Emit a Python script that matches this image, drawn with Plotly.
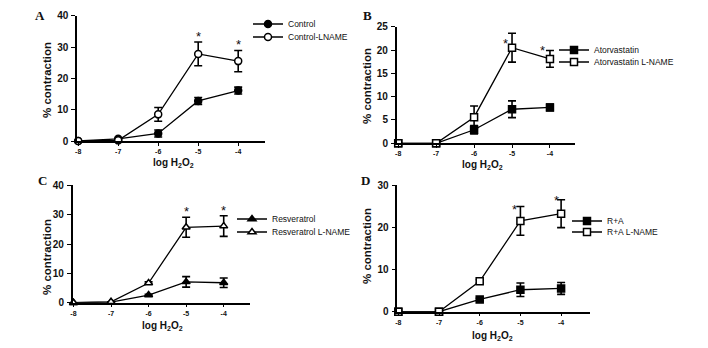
import plotly.graph_objects as go

# ---------------- data ----------------
doses = [-8, -7, -6, -5, -4]
x_ticks = [-8, -7, -6, -5, -4]

control = [0, 0.7, 2.4, 12.8, 16.1]
control_err = [0, 0, 1.1, 1.1, 1.1]
control_lname = [0, 0.2, 8.5, 27.8, 25.5]
control_lname_err = [0, 0, 2.2, 3.8, 3.4]

ator = [0, 0, 2.9, 7.3, 7.7]
ator_err = [0, 0, 0.9, 1.8, 0.7]
ator_lname = [0, 0, 5.6, 20.5, 18.1]
ator_lname_err = [0, 0, 2.4, 3.1, 1.8]

resv = [0, 0.2, 2.6, 7.1, 6.8]
resv_err = [0, 0, 0.3, 1.8, 1.6]
resv_lname = [0, 0.3, 6.7, 25.7, 26.1]
resv_lname_err = [0, 0, 0.4, 3.4, 3.5]

ra = [0, 0, 2.9, 5.2, 5.5]
ra_err = [0, 0, 0.3, 1.6, 1.4]
ra_lname = [0, 0, 7.2, 21.5, 23.2]
ra_lname_err = [0, 0, 0.4, 3.4, 3.3]

A_yticks = [0, 10, 20, 30, 40]
B_yticks = [0, 5, 10, 15, 20, 25]
C_yticks = [0, 10, 20, 30, 40]
D_yticks = [0, 10, 20, 30]

W, H = 708, 348
def px(x):
    return x / W
def py(y):
    return 1 - y / H

SANS = "Liberation Sans, Arial, sans-serif"
SERIF = "Liberation Serif, Times New Roman, serif"
INK = "#111111"

fig = go.Figure()

panels = [
    dict(letter="A", ax="",
         series=[("Control", control, control_err, "circle", "black"),
                 ("Control-LNAME", control_lname, control_lname_err, "circle", "white")],
         yticks=A_yticks, xd=(77, 265), yd=(141, 15.7), xr=(-8.03, -3.33), yr=(0, 40),
         legx=285, legy=(24, 37), letpos=(40, 15), ytpos=(47, 80), xtpos=(173, 163),
         stars=[(3, 9, 0), (4, 9, 0)]),
    dict(letter="B", ax="2",
         series=[("Atorvastatin", ator, ator_err, "square", "black"),
                 ("Atorvastatin L-NAME", ator_lname, ator_lname_err, "square", "white")],
         yticks=B_yticks, xd=(396.7, 575), yd=(143.3, 26.7), xr=(-8.04, -3.34), yr=(0, 25),
         legx=591, legy=(50, 62), letpos=(367, 15), ytpos=(367, 86), xtpos=(483, 165),
         stars=[(3, -7, -7), (4, 3, -7)]),
    dict(letter="C", ax="3",
         series=[("Resveratrol", resv, resv_err, "triangle-up", "black"),
                 ("Resveratrol L-NAME", resv_lname, resv_lname_err, "triangle-up", "white")],
         yticks=C_yticks, xd=(72.7, 250), yd=(302.7, 185.3), xr=(-8.02, -3.30), yr=(0, 40),
         legx=269, legy=(219, 232), letpos=(42, 181), ytpos=(47, 257), xtpos=(162, 326),
         stars=[(3, 8.5, 0), (4, 8.8, 0)]),
    dict(letter="D", ax="4",
         series=[("R+A", ra, ra_err, "square", "black"),
                 ("R+A L-NAME", ra_lname, ra_lname_err, "square", "white")],
         yticks=D_yticks, xd=(397.3, 590), yd=(311.7, 185), xr=(-8.025, -3.29), yr=(0, 30),
         legx=604, legy=(221, 232), letpos=(366, 181), ytpos=(367, 246), xtpos=(492, 336),
         stars=[(3, 0, -6), (4, 2, -5)]),
]

annotations = []
layout = {}
leg_n = 0
for p in panels:
    xa = "x" + p["ax"]
    ya = "y" + p["ax"]
    for k, (name, vals, errs, sym, fill) in enumerate(p["series"]):
        leg_n += 1
        leg_key = "legend" if leg_n == 1 else "legend%d" % leg_n
        fig.add_trace(go.Scatter(
            x=doses, y=vals, name=name, mode="lines+markers",
            xaxis=xa, yaxis=ya, legend=leg_key,
            line=dict(color="black", width=1.3),
            marker=dict(symbol=sym, size=7, color=fill,
                        line=dict(color="black", width=1.5)),
            error_y=dict(type="data", array=errs, visible=True,
                         color="black", thickness=1.6, width=4),
            cliponaxis=False,
        ))
        layout[leg_key] = dict(
            x=px(p["legx"] + 3 - 40), y=py(p["legy"][k]), xanchor="left", yanchor="middle",
            bgcolor="rgba(0,0,0,0)", borderwidth=0,
            font=dict(family=SANS, size=8.5, color=INK),
            itemwidth=30,
        )
    axkey = "xaxis" + p["ax"]
    aykey = "yaxis" + p["ax"]
    layout[axkey] = dict(
        domain=[px(p["xd"][0]), px(p["xd"][1])], range=list(p["xr"]),
        anchor=ya, showgrid=False, zeroline=False, showline=True,
        linecolor="black", linewidth=1.5, ticks="outside", ticklen=3,
        tickwidth=1.2, tickcolor="black", tickvals=x_ticks,
        ticktext=[str(t) for t in x_ticks],
        tickfont=dict(family=SANS, size=7, color=INK, weight="bold"),
        fixedrange=True, automargin=False,
    )
    layout[aykey] = dict(
        domain=[py(p["yd"][0]), py(p["yd"][1])], range=list(p["yr"]),
        anchor=xa, showgrid=False, zeroline=False, showline=True,
        linecolor="black", linewidth=1.5, ticks="outside", ticklen=4,
        tickwidth=1.2, tickcolor="black", tickvals=p["yticks"],
        tickfont=dict(family=SANS, size=10, color=INK, weight="bold"),
        ticklabelstandoff=1,
        fixedrange=True, automargin=False,
    )
    annotations.append(dict(
        text="<b>%s</b>" % p["letter"], x=px(p["letpos"][0]), y=py(p["letpos"][1]),
        xref="paper", yref="paper", showarrow=False, xanchor="center", yanchor="middle",
        font=dict(family=SERIF, size=13, color=INK)))
    annotations.append(dict(
        text="<b>% contraction</b>", x=px(p["ytpos"][0]), y=py(p["ytpos"][1]),
        xref="paper", yref="paper", showarrow=False, textangle=-90,
        xanchor="center", yanchor="middle",
        font=dict(family=SANS, size=11.5, color=INK)))
    annotations.append(dict(
        text="<b>log H<sub>2</sub>O<sub>2</sub></b>", x=px(p["xtpos"][0]), y=py(p["xtpos"][1]),
        xref="paper", yref="paper", showarrow=False, xanchor="center", yanchor="middle",
        font=dict(family=SANS, size=10, color=INK)))
    lname_vals, lname_errs = p["series"][1][1], p["series"][1][2]
    for idx, up, xs in p["stars"]:
        annotations.append(dict(
            text="*", x=doses[idx], y=lname_vals[idx] + lname_errs[idx],
            xref=xa, yref=ya, showarrow=False, xanchor="center", yanchor="middle",
            xshift=xs, yshift=up - 3,
            font=dict(family=SANS, size=13, color=INK)))

fig.update_layout(
    width=W, height=H, margin=dict(l=0, r=0, t=0, b=0, autoexpand=False),
    paper_bgcolor="white", plot_bgcolor="white",
    showlegend=True, annotations=annotations, **layout,
)

fig.write_html("out.html", config={"displayModeBar": False},
               post_script="document.body.style.margin='0px';")
